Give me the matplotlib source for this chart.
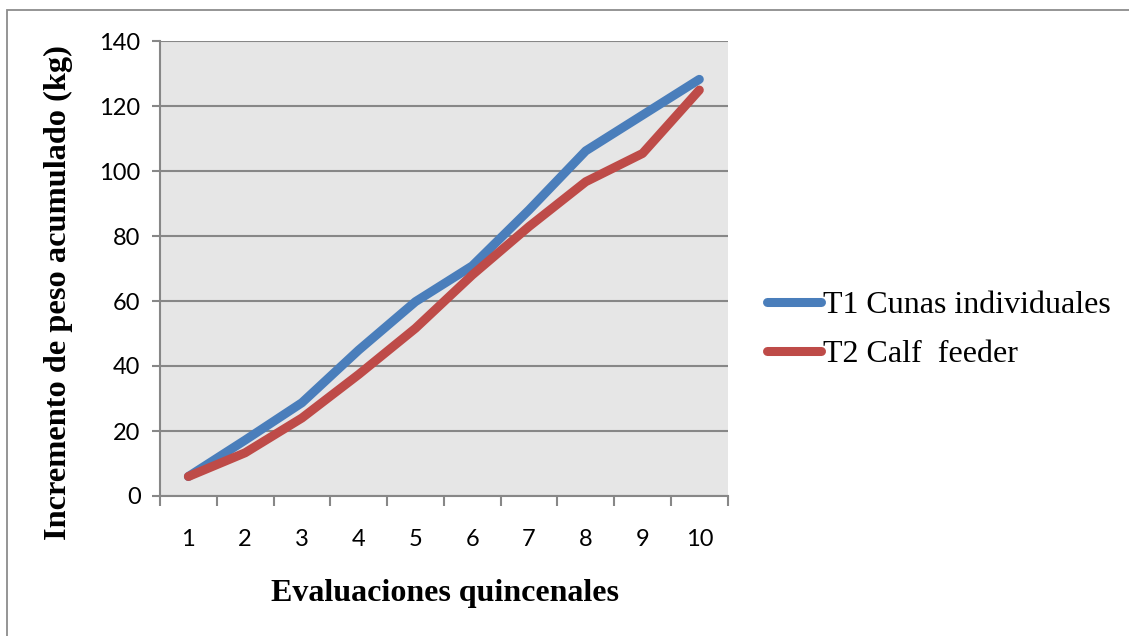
import matplotlib
matplotlib.use("Agg")
import matplotlib.pyplot as plt
from matplotlib.patches import Rectangle
import numpy as np

evaluaciones = [1, 2, 3, 4, 5, 6, 7, 8, 9, 10]
t1_cunas = [6.0, 17.2, 28.7, 44.9, 59.8, 70.8, 88.0, 106.2, 117.2, 128.2]
t2_calf = [6.0, 13.3, 24.0, 37.4, 51.6, 68.0, 82.9, 96.7, 105.4, 124.9]
y_ticks = [0, 20, 40, 60, 80, 100, 120, 140]

W, H = 1129, 636
fig = plt.figure(figsize=(W / 100, H / 100), dpi=100)
fig.patch.set_facecolor("white")

# outer chart frame
fig.add_artist(Rectangle((7 / W, -0.05), 1.2, (H - 10) / H + 0.05,
                         transform=fig.transFigure, fill=False,
                         edgecolor="#8c8c8c", linewidth=1.3))

left, right = 160 / W, 727.7 / W
bottom, top = (H - 496) / H, (H - 41) / H
ax = fig.add_axes([left, bottom, right - left, top - bottom])
ax.set_facecolor("#e6e6e6")

grid_c = "#878787"
for v in y_ticks:
    ax.axhline(v, color=grid_c, linewidth=1.5, zorder=1)

ax.plot(evaluaciones, t1_cunas, color="#4a7ebb", linewidth=6.5,
        solid_capstyle="round", solid_joinstyle="round", zorder=3,
        label="T1 Cunas individuales")
ax.plot(evaluaciones, t2_calf, color="#be4b48", linewidth=6.5,
        solid_capstyle="round", solid_joinstyle="round", zorder=3,
        label="T2 Calf  feeder")

ax.set_xlim(0.5, 10.5)
ax.set_ylim(0, 140)
ax.set_yticks(y_ticks)
ax.set_xticks(np.arange(0.5, 11, 1))
ax.set_xticklabels([])
ax.set_xticks(evaluaciones, minor=True)
ax.set_xticklabels([str(e) for e in evaluaciones], minor=True)

tick_font = "Lato"
ax.tick_params(axis="y", length=6, width=1.5, color=grid_c, pad=8,
               labelsize=17, labelfontfamily=tick_font)
ax.tick_params(axis="x", which="major", length=7, width=1.5, color=grid_c,
               direction="out")
ax.tick_params(axis="x", which="minor", length=0, pad=24, labelsize=17,
               labelfontfamily=tick_font)

for s in ["top", "right"]:
    ax.spines[s].set_visible(False)
for s in ["left", "bottom"]:
    ax.spines[s].set_color(grid_c)
    ax.spines[s].set_linewidth(1.5)
ax.spines["left"].set_zorder(4)

serif = "Liberation Serif"
fig.text(58 / W, 1 - 293 / H, "Incremento de peso acumulado (kg)",
         rotation=90, ha="center", va="center", fontsize=23.3,
         fontweight="bold", family=serif)
fig.text(445 / W, 1 - 593 / H, "Evaluaciones quincenales",
         ha="center", va="center", fontsize=23, fontweight="bold",
         family=serif)

leg = ax.legend(loc="center left", bbox_to_anchor=(751 / W, 1 - 330 / H),
                bbox_transform=fig.transFigure, frameon=False,
                prop={"family": serif, "size": 23}, handlelength=1.7,
                handletextpad=0.05, labelspacing=0.62, borderpad=0)

fig.savefig("out.png", dpi=100, facecolor="white")
